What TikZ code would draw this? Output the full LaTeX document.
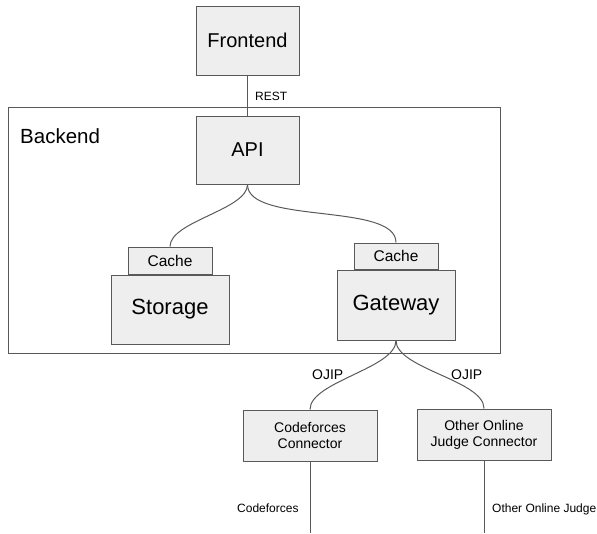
\documentclass[tikz,border=0pt]{standalone}
\usepackage{fontspec}
\setmainfont{Liberation Sans}
\usetikzlibrary{positioning}

\definecolor{boxfill}{HTML}{EEEEEE}
\definecolor{edgegray}{HTML}{595959}

\tikzset{
  block/.style={draw=edgegray,fill=boxfill,line width=1pt,inner sep=0pt,
    minimum width=103pt,minimum height=69pt,font=\fontsize{20}{24}\selectfont},
  store/.style={block,minimum width=118pt,font=\fontsize{22}{26}\selectfont},
  cachebox/.style={block,minimum width=84pt,minimum height=27pt,
    font=\fontsize{15.5}{18}\selectfont},
  connector/.style={block,minimum width=134pt,minimum height=51pt,align=center,
    font=\fontsize{14}{16}\selectfont},
  wire/.style={draw=edgegray,line width=1pt},
  link/.style={wire,out=-90,in=90,looseness=.65},
  tag/.style={inner sep=0pt,font=\fontsize{12}{14}\selectfont}
}

\begin{document}
\begin{tikzpicture}[x=1pt,y=-1pt]
   \useasboundingbox (0,0) rectangle (597,533);

   % backend frame
   \draw[wire] (8,107) rectangle (500,353);
   \node[anchor=base west,inner sep=0pt,font=\fontsize{20.5}{24}\selectfont]
        (backend) at (20,143) {Backend};

   \node[block]     (frontend) at (247.5,40.5)            {Frontend};
   \node[block,minimum height=68pt] (api) at (247.5,150) {API};
   \node[store]     (storage)  at (170,309.5)             {Storage};
   \node[cachebox]  (scache)   [above=0pt of storage]     {Cache};
   \node[store,minimum height=70pt] (gateway) at (396,305) {Gateway};
   \node[cachebox,minimum height=26pt] (gcache) [above=0pt of gateway] {Cache};
   \node[connector] (cfconn)   at (310,435.5) {Codeforces\\Connector};
   \node[connector] (ojconn)   at (484,434.5) {Other Online\\Judge Connector};

   \coordinate (cfend) at (310,533);
   \coordinate (ojend) at (484,533);

   \draw[wire] (frontend) -- (api);
   \draw[link] (api.south) to (scache.north);
   \draw[link] (api.south) to (gcache.north);
   \draw[link] (gateway.south) to (cfconn.north);
   \draw[link] (gateway.south) to (ojconn.north);
   \draw[wire] (cfconn) -- (cfend);
   \draw[wire] (ojconn) -- (ojend);

   % protocol labels
   \node[tag,anchor=base west] (rest) at (255,100) {REST};
   \node[tag,anchor=base west,font=\fontsize{14}{16}\selectfont] (ojipl) at (312,379) {OJIP};
   \node[tag,anchor=base west,font=\fontsize{14}{16}\selectfont] (ojipr) at (451,379) {OJIP};
   \node[tag,anchor=base west] (cflabel) at (237,512.5) {Codeforces};
   \node[tag,anchor=base west] (ojlabel) at (492,512.5) {Other Online Judge};
\end{tikzpicture}
\end{document}
